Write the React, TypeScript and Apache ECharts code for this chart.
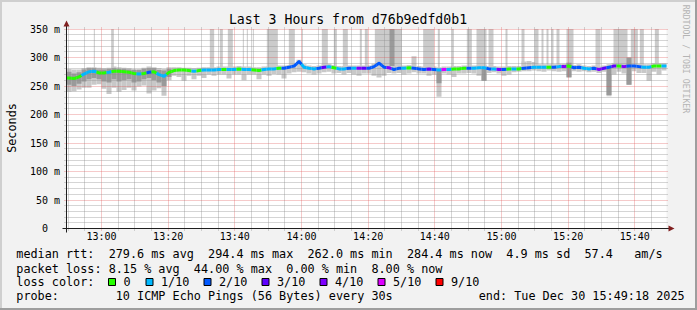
import { useEffect, useRef } from "react";
import * as echarts from "echarts";

// time axis in minutes after 12:00
const START = 49.5;
const END = 229.5;
const SLOT = 1.5;
const Y_MAX = 350;

const median = [
  264, 263, 266, 271, 275, 276, 273, 273, 274, 276, 276, 275, 274, 272, 271, 272, 274, 275, 270, 267,
  274, 277, 278, 278, 277, 276, 277, 278, 278, 278, 279, 279, 279, 279, 280, 279, 279, 278, 277, 279,
  280, 280, 281, 281, 283, 285, 293, 283, 281, 280, 281, 283, 284, 282, 280, 280, 281, 281, 281, 281,
  281, 284, 290, 283, 282, 279, 281, 281, 282, 281, 280, 279, 280, 279, 278, 279, 279, 280, 280, 281,
  281, 281, 282, 282, 280, 280, 279, 279, 280, 280, 280, 281, 282, 283, 283, 283, 283, 283, 284, 284,
  285, 282, 283, 281, 280, 281, 279, 281, 283, 285, 285, 284, 285, 285, 284, 283, 283, 285, 285, 285,
];

const loss = [
  0, 0, 0, 1, 1, 1, 0, 0, 1, 0, 0, 0, 0, 0, 1, 0, 2, 0, 1, 1,
  0, 0, 0, 0, 0, 1, 0, 1, 1, 1, 1, 0, 1, 1, 0, 1, 1, 0, 0, 1,
  1, 1, 0, 2, 2, 2, 2, 1, 1, 1, 2, 3, 1, 0, 1, 1, 2, 1, 4, 3,
  2, 2, 2, 2, 4, 2, 2, 1, 0, 2, 2, 2, 3, 2, 1, 5, 1, 0, 0, 0,
  2, 1, 1, 1, 2, 1, 4, 2, 0, 1, 0, 2, 2, 1, 1, 1, 0, 2, 1, 4,
  0, 2, 2, 1, 1, 2, 4, 3, 2, 3, 0, 4, 2, 2, 2, 1, 1, 0, 0, 1,
];

const smokeLo = [
  240, 241, 244, 247, 247, 252, 253, 245, 236, 247, 240, 243, 247, 242, 249, 251, 237, 242, 246, 233,
  260, 268, 266, 259, 268, 262, 268, 264, 270, 268, 270, 270, 263, 270, 270, 260, 270, 270, 262, 270,
  268, 271, 270, 263, 272, 274, 275, 274, 272, 270, 272, 274, 275, 272, 273, 270, 273, 270, 268, 272,
  272, 268, 265, 268, 273, 272, 273, 270, 272, 274, 272, 272, 268, 270, 231, 272, 270, 266, 272, 272,
  273, 272, 268, 259, 273, 274, 272, 268, 270, 274, 275, 276, 276, 277, 276, 275, 277, 276, 275, 276,
  266, 276, 275, 276, 274, 275, 273, 275, 232, 270, 275, 272, 252, 276, 273, 273, 259, 275, 270, 277,
];

const smokeHi = [
  280, 279, 279, 281, 283, 283, 282, 281, 282, 284, 283, 282, 281, 280, 280, 282, 284, 283, 281, 280,
  283, 283, 283, 282, 282, 281, 282, 283, 283, 283, 284, 284, 284, 284, 285, 284, 284, 283, 283, 284,
  285, 285, 286, 286, 287, 289, 296, 288, 286, 285, 286, 288, 289, 287, 285, 285, 286, 286, 286, 286,
  286, 289, 294, 288, 287, 285, 286, 286, 287, 302, 285, 284, 285, 284, 283, 284, 284, 285, 285, 286,
  286, 286, 287, 287, 285, 285, 284, 284, 285, 285, 285, 293, 294, 292, 288, 288, 288, 288, 289, 289,
  291, 287, 288, 286, 285, 286, 284, 286, 288, 290, 290, 289, 300, 290, 289, 288, 288, 290, 290, 290,
];

// [slot, low, high] of the denser (darker) smoke
const darkSmoke: [number, number, number][] = [
  [0, 252, 275], [1, 250, 272], [2, 254, 274], [3, 258, 279], [4, 262, 281], [5, 264, 281],
  [6, 262, 279], [7, 258, 279], [8, 256, 280], [9, 262, 281], [10, 258, 280], [11, 260, 280],
  [12, 262, 279], [13, 256, 278], [14, 258, 278], [15, 262, 280], [16, 264, 281], [17, 260, 281],
  [18, 256, 278], [19, 250, 277], [20, 266, 280], [74, 255, 279], [83, 259, 282], [100, 265, 291],
  [108, 234, 284], [112, 252, 300],
];

// smoke columns that run off the top: [from, to] in minutes after 12:00
const tallBars: [number, number][] = [
  [57.7, 58.0], [62.9, 63.7], [92.5, 93.8], [95.5, 96.4], [97.9, 99.4], [102.4, 102.7],
  [103.6, 103.9], [105.4, 105.7], [109.6, 112.9], [116.2, 118.0], [120.1, 120.4], [126.1, 127.9],
  [129.7, 130.6], [132.4, 133.9], [137.5, 138.1], [139.0, 139.9], [142.0, 150.1], [156.5, 159.8],
  [160.9, 161.5], [165.1, 165.7], [169.6, 171.1], [172.5, 175.5], [176.1, 177.6], [181.2, 181.8],
  [186.0, 186.9], [189.9, 191.1], [192.0, 192.6], [193.5, 194.1], [195.0, 195.6], [196.5, 197.4],
  [199.5, 201.6], [208.2, 209.7], [213.6, 217.8], [218.8, 220.9], [221.5, 222.7], [226.0, 227.2],
];
const darkTallBars: [number, number][] = [[146.4, 147.9]];

const xTickMinutes = [60, 80, 100, 120, 140, 160, 180, 200, 220];
const xTickLabels = ["13:00", "13:20", "13:40", "14:00", "14:20", "14:40", "15:00", "15:20", "15:40"];

const lossLabels = ["0", "1/10", "2/10", "3/10", "4/10", "5/10", "9/10"];
const lossColors = ["#26ff00", "#00b8ff", "#0059ff", "#5e00ff", "#7e00ff", "#dd00ff", "#ff0000"];

const titleText = "Last 3 Hours from d76b9edfd0b1";
const statsRtt = "median rtt:  279.6 ms avg  294.4 ms max  262.0 ms min  284.4 ms now  4.9 ms sd  57.4   am/s";
const statsLoss = "packet loss: 8.15 % avg  44.00 % max  0.00 % min  8.00 % now";
const lossTitle = "loss color:";
const probeText = "probe:        10 ICMP Echo Pings (56 Bytes) every 30s";
const endText = "end: Tue Dec 30 15:49:18 2025";

const MONO = "'DejaVu Sans Mono', monospace";
const nb = (s: string) => s.replace(/ /g, "\u00a0");
const colorForLoss = (n: number) => (n >= 6 ? lossColors[6] : lossColors[n]);

export default function App() {
  const ref = useRef<HTMLDivElement>(null);

  useEffect(() => {
    if (!ref.current) return;
    const chart = echarts.init(ref.current, null, { renderer: "svg" });

    const slotStart = (i: number) => START + i * SLOT;
    const slotOf = (t: number) => Math.max(0, Math.min(median.length - 1, Math.floor((t - START) / SLOT)));

    const rectItem = (fill: string) => (params: any, api: any) => {
      const a = api.coord([api.value(0), api.value(3)]);
      const b = api.coord([api.value(1), api.value(2)]);
      return {
        type: "rect",
        shape: { x: a[0], y: a[1], width: b[0] - a[0], height: b[1] - a[1] },
        style: { fill },
      };
    };

    const lightData = median.map((_, i) => [slotStart(i), slotStart(i + 1), smokeLo[i], smokeHi[i]]);
    const darkData = darkSmoke.map(([i, lo, hi]) => [slotStart(i), slotStart(i + 1), lo, hi]);
    const tallData = tallBars.map(([a, b]) => [a, b, median[slotOf(a)], Y_MAX]);
    const darkTallData = darkTallBars.map(([a, b]) => [a, b, median[slotOf(a)] + 3, Y_MAX]);

    // grid lines: [kind 0=vertical 1=horizontal, value, major]
    const gridData: number[][] = [];
    for (let m = 50; m < END; m += 5) gridData.push([0, m, m % 20 === 0 ? 1 : 0]);
    for (let v = 10; v <= Y_MAX; v += 10) gridData.push([1, v, v % 50 === 0 ? 1 : 0]);

    const medianData = median.map((v, i) => [START + (i + 0.5) * SLOT, v, loss[i]]);

    const boxX = (i: number) => 108.5 + (i === 0 ? 0 : 37.5 + (i - 1) * 58);

    const legendGraphics: any[] = [];
    lossLabels.forEach((lab, i) => {
      legendGraphics.push({
        type: "rect",
        shape: { x: boxX(i), y: 278.5, width: 7, height: 7 },
        style: { fill: lossColors[i], stroke: "#000", lineWidth: 1 },
        z: 100,
      });
      legendGraphics.push({
        type: "text",
        x: boxX(i) + 15,
        y: 282,
        style: { text: lab, font: `11.8px ${MONO}`, fill: "#000", textVerticalAlign: "middle" },
        z: 100,
      });
    });

    const textLine = (s: string, x: number, y: number) => ({
      type: "text",
      x,
      y,
      style: { text: nb(s), font: `11.8px ${MONO}`, fill: "#000", textVerticalAlign: "middle" },
      z: 100,
    });

    chart.setOption({
      animation: false,
      backgroundColor: "#f2f2f2",
      grid: {
        left: 66.5,
        top: 29,
        width: 600,
        height: 199.5,
        show: true,
        backgroundColor: "#ffffff",
        borderWidth: 0,
      },
      xAxis: {
        type: "value",
        min: START,
        max: END,
        axisLine: { show: false },
        axisTick: { show: false },
        splitLine: { show: false },
        axisLabel: {
          customValues: xTickMinutes,
          formatter: (v: number) => {
            const k = xTickMinutes.indexOf(v);
            return k >= 0 ? xTickLabels[k] : "";
          },
          fontFamily: MONO,
          fontSize: 10,
          color: "#000",
          margin: 3,
        },
      },
      yAxis: {
        type: "value",
        min: 0,
        max: Y_MAX,
        interval: 50,
        axisLine: { show: false },
        axisTick: { show: false },
        splitLine: { show: false },
        axisLabel: {
          formatter: (v: number) => (v === 0 ? "0\u00a0\u00a0" : `${v} m`),
          fontFamily: MONO,
          fontSize: 10,
          color: "#000",
          margin: 6.5,
        },
      },
      series: [
        {
          type: "custom",
          name: "tall",
          data: tallData,
          encode: { x: [0, 1], y: [2, 3] },
          renderItem: rectItem("#cbcbcb"),
          clip: true,
          z: 1,
          silent: true,
        },
        {
          type: "custom",
          name: "smoke",
          data: lightData,
          encode: { x: [0, 1], y: [2, 3] },
          renderItem: rectItem("#c8c8c8"),
          clip: true,
          z: 2,
          silent: true,
        },
        {
          type: "custom",
          name: "darksmoke",
          data: darkData.concat(darkTallData),
          encode: { x: [0, 1], y: [2, 3] },
          renderItem: rectItem("#9a9a9a"),
          clip: true,
          z: 3,
          silent: true,
        },
        {
          type: "custom",
          name: "grid",
          data: gridData,
          encode: { x: 1 },
          clip: false,
          z: 4,
          silent: true,
          renderItem: (params: any, api: any) => {
            const kind = api.value(0);
            const v = api.value(1);
            const major = api.value(2) === 1;
            const stroke = major ? "rgba(222,79,79,0.6)" : "rgba(143,143,143,0.75)";
            if (kind === 0) {
              const a = api.coord([v, 0]);
              const b = api.coord([v, Y_MAX]);
              const x = Math.floor(a[0]) + 0.5;
              return {
                type: "line",
                shape: { x1: x, y1: a[1] + 2, x2: x, y2: b[1] - 2 },
                style: { stroke, lineWidth: 1, lineDash: [1, 1] },
              };
            }
            const a = api.coord([START, v]);
            const b = api.coord([END, v]);
            const y = Math.floor(a[1]) + 0.5;
            return {
              type: "line",
              shape: { x1: a[0] - 2, y1: y, x2: b[0] + 2, y2: y },
              style: { stroke, lineWidth: 1, lineDash: [1, 1] },
            };
          },
        },
        {
          type: "custom",
          name: "median",
          data: medianData,
          encode: { x: 0, y: 1 },
          clip: true,
          z: 5,
          silent: true,
          renderItem: (params: any, api: any) => {
            const i = params.dataIndex;
            const pt = (j: number) => api.coord([START + (j + 0.5) * SLOT, median[j]]);
            const c = pt(i);
            const mid = (p: number[], q: number[]) => [(p[0] + q[0]) / 2, (p[1] + q[1]) / 2];
            const prev = i > 0 ? mid(pt(i - 1), c) : api.coord([START, median[i]]);
            const next = i < median.length - 1 ? mid(c, pt(i + 1)) : api.coord([END, median[i]]);
            return {
              type: "polyline",
              shape: { points: [prev, c, next] },
              style: { stroke: colorForLoss(loss[i]), lineWidth: 3, fill: null, lineJoin: "round" },
            };
          },
        },
      ],
      graphic: [
        // 3D frame
        { type: "rect", shape: { x: 0, y: 0, width: 697, height: 2 }, style: { fill: "#cfcfcf" }, z: 100 },
        { type: "rect", shape: { x: 0, y: 0, width: 2, height: 310 }, style: { fill: "#cfcfcf" }, z: 100 },
        { type: "rect", shape: { x: 0, y: 308, width: 697, height: 2 }, style: { fill: "#9e9e9e" }, z: 100 },
        { type: "rect", shape: { x: 695, y: 0, width: 2, height: 310 }, style: { fill: "#9e9e9e" }, z: 100 },
        // axes
        { type: "line", shape: { x1: 66.5, y1: 232.5, x2: 66.5, y2: 25 }, style: { stroke: "#1f1f1f", lineWidth: 1 }, z: 100 },
        { type: "line", shape: { x1: 62.5, y1: 228.5, x2: 669, y2: 228.5 }, style: { stroke: "#1f1f1f", lineWidth: 1 }, z: 100 },
        { type: "polygon", shape: { points: [[63.5, 26.5], [69.5, 26.5], [66.5, 20.5]] }, style: { fill: "#801f1f" }, z: 101 },
        { type: "polygon", shape: { points: [[668.5, 225.5], [668.5, 231.5], [674.5, 228.5]] }, style: { fill: "#801f1f" }, z: 101 },
        // title
        {
          type: "text",
          x: 348,
          y: 19,
          style: { text: titleText, font: `13.2px ${MONO}`, fill: "#000", textAlign: "center", textVerticalAlign: "middle" },
          z: 100,
        },
        // y axis name
        {
          type: "text",
          x: 11.5,
          y: 128,
          rotation: Math.PI / 2,
          style: { text: "Seconds", font: `11.8px ${MONO}`, fill: "#000", textAlign: "center", textVerticalAlign: "middle" },
          z: 100,
        },
        // watermark
        {
          type: "text",
          x: 686,
          y: 59,
          rotation: -Math.PI / 2,
          style: {
            text: "RRDTOOL / TOBI OETIKER",
            font: `8.2px ${MONO}`,
            fill: "#b4b4b4",
            textAlign: "center",
            textVerticalAlign: "middle",
          },
          z: 100,
        },
        textLine(statsRtt, 16.3, 254),
        textLine(statsLoss, 16.3, 268.5),
        textLine(lossTitle, 16.3, 282),
        textLine(probeText, 16.3, 296),
        textLine(endText, 478.7, 296),
        ...legendGraphics,
      ],
    });

    return () => chart.dispose();
  }, []);

  return (
    <div
      ref={ref}
      style={{ position: "fixed", left: 0, top: 0, width: 697, height: 310 }}
    />
  );
}
